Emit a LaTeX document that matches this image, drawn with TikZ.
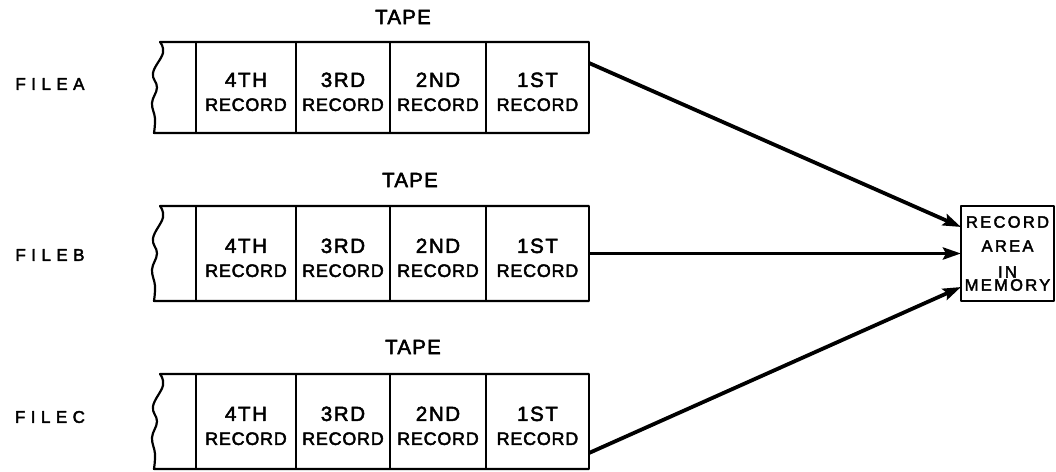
\documentclass[tikz,border=0pt]{standalone}
\usepackage{fontspec}
\setmainfont{Liberation Sans}
\newfontfamily\cellfam[LetterSpace=4,FakeBold=2.5]{Liberation Sans}
\newfontfamily\ordfam[LetterSpace=8,FakeBold=2.5]{Liberation Sans}
\newfontfamily\tapefam[LetterSpace=6,FakeBold=2.5]{Liberation Sans}
\newfontfamily\filefam[LetterSpace=32,FakeBold=2.5]{Liberation Sans}
\newfontfamily\memfam[LetterSpace=14,FakeBold=2.5]{Liberation Sans}
\newcommand\cellfont{\cellfam\fontsize{18}{24}\selectfont}
\newcommand\ordtext[1]{{\ordfam\fontsize{20.5}{24}\selectfont\rule{0pt}{23pt}#1}}
\newcommand\tapefont{\tapefam\fontsize{20.5}{24}\selectfont}
\newcommand\filefont{\filefam\fontsize{17}{20}\selectfont}
\newcommand\memfont{\memfam\fontsize{16.5}{24}\selectfont}
\usetikzlibrary{arrows.meta}

% One strip of tape: #1 name prefix, #2 top edge, #3 height
\newcommand\tapestrip[3]{%
  \draw[tapeline] (589,#2) -- (160,#2)
    -- plot[smooth, tension=0.7] coordinates {(160,#2) (163,{#2+0.12*#3}) (153,{#2+0.34*#3})
       (157,{#2+0.5*#3}) (152,{#2+0.67*#3}) (155,{#2+0.84*#3}) (154,{#2+#3})}
    -- (589,{#2+#3});
  \node[cell, minimum width=100, minimum height=#3] (#1-4) at (196,#2) {\ordtext{4TH}\\RECORD};
  \node[cell, minimum width=94,  minimum height=#3] (#1-3) at (296,#2) {\ordtext{3RD}\\RECORD};
  \node[cell, minimum width=96,  minimum height=#3] (#1-2) at (390,#2) {\ordtext{2ND}\\RECORD};
  \node[cell, minimum width=103, minimum height=#3] (#1-1) at (486,#2) {\ordtext{1ST}\\RECORD};
}

\begin{document}
\begin{tikzpicture}[x=1pt, y=-1pt, line join=round,
  tapeline/.style={line width=2.2pt},
  cell/.style={draw, line width=2.2pt, anchor=north west, inner sep=0pt, outer sep=0pt,
    align=center, font=\cellfont},
  tapelabel/.style={font=\tapefont, inner sep=0pt},
  filelabel/.style={font=\filefont, inner sep=0pt},
  feed/.style={line width=3.8pt, -{Stealth[length=18pt, width=12pt, inset=3pt]}}]

\useasboundingbox (0,0) rectangle (1056,471);

% tape labels
\node[tapelabel] (ta) at (403,17) {TAPE};
\node[tapelabel] (tb) at (410,180) {TAPE};
\node[tapelabel] (tc) at (413,347) {TAPE};

% file names
\node[filelabel] (fa) at (50,84) {FILEA};
\node[filelabel] (fb) at (50,255) {FILEB};
\node[filelabel] (fc) at (50,417) {FILEC};

% the three tapes
\tapestrip{a}{42}{91}
\tapestrip{b}{206}{95}
\tapestrip{c}{374}{95}

% memory area
\node[draw, line width=2.2pt, anchor=north west, inner sep=0pt, outer sep=0pt,
  minimum width=93, minimum height=95, align=center, font=\memfont]
  (mem) at (961,206) {RECORD\\AREA\\[2pt]IN\\[-11pt]MEMORY};

% records flowing into memory
\draw[feed] ([yshift=-21pt]a-1.north east) -- ([yshift=-21pt]mem.north west);
\draw[feed] (b-1.east) -- (mem.west);
\draw[feed] ([yshift=16pt]c-1.south east) -- ([yshift=14pt]mem.south west);
\end{tikzpicture}
\end{document}
